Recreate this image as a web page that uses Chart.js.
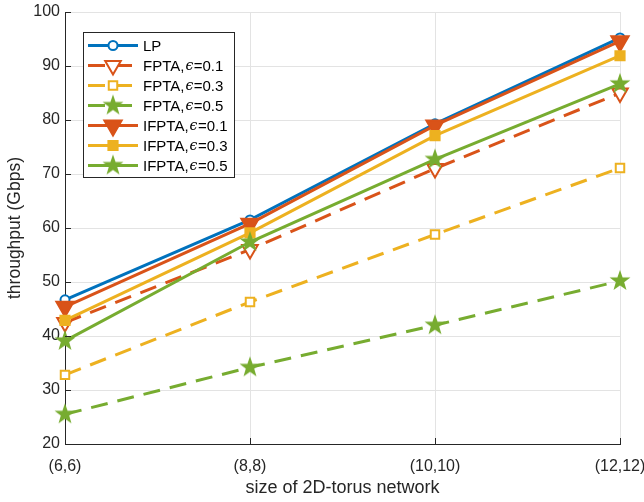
<!DOCTYPE html>
<html>
<head>
<meta charset="utf-8">
<script src="https://cdn.jsdelivr.net/npm/chart.js@4.4.1/dist/chart.umd.min.js"></script>
<style>
    html, body { margin: 0; padding: 0; background: #ffffff; }
    #wrap { width: 644px; height: 502px; }
</style>
</head>
<body>
<div id="wrap"><canvas id="chartThroughput" width="644" height="502"></canvas></div>
<script>
const sizes = ['(6,6)', '(8,8)', '(10,10)', '(12,12)'];
const yTicks = [20, 30, 40, 50, 60, 70, 80, 90, 100];

const lp = [46.7, 61.5, 79.3, 95.2];
const fpta01 = [42.5, 56.0, 71.0, 85.0];
const fpta03 = [32.8, 46.3, 58.8, 71.1];
const fpta05 = [25.5, 34.2, 42.0, 50.2];
const ifpta01 = [45.4, 60.8, 79.0, 94.6];
const ifpta03 = [42.9, 59.1, 77.1, 91.9];
const ifpta05 = [39.1, 57.4, 72.7, 86.7];

const palette = {
    blue: '#0072bd',
    red: '#d95319',
    yellow: '#edb120',
    green: '#77ac30',
    axis: '#262626',
    grid: '#e3e3e3',
};

const font = "Arial, 'Liberation Sans', Helvetica, sans-serif";

// filled five-point star used as a point style
function makeStar(color, outer) {
    const size = Math.ceil(outer * 2 + 2);
    const c = document.createElement('canvas');
    c.width = size;
    c.height = size;
    const g = c.getContext('2d');
    const cx = size / 2, cy = size / 2, inner = outer * 0.4;
    g.beginPath();
    for (let i = 0; i < 10; i++) {
        const r = i % 2 === 0 ? outer : inner;
        const a = -Math.PI / 2 + i * Math.PI / 5;
        const px = cx + r * Math.cos(a), py = cy + r * Math.sin(a);
        if (i === 0) g.moveTo(px, py); else g.lineTo(px, py);
    }
    g.closePath();
    g.fillStyle = color;
    g.fill();
    return c;
}

const star = makeStar(palette.green, 11);

function series(label, values, color, opts) {
    return Object.assign({
        label: label,
        data: values,
        borderColor: color,
        backgroundColor: color,
        pointBorderColor: color,
        pointBackgroundColor: color,
        borderWidth: 3,
        pointBorderWidth: 2,
        pointRadius: 6,
        tension: 0,
        fill: false,
        clip: false,
    }, opts);
}

const dash = [17, 10];

const datasets = [
    series('LP', lp, palette.blue, { pointStyle: 'circle', pointRadius: 4.5, pointBackgroundColor: '#ffffff' }),
    series('FPTA,ϵ=0.1', fpta01, palette.red, { borderDash: dash, pointStyle: 'triangle', pointRotation: 180, pointRadius: 9, pointBackgroundColor: '#ffffff' }),
    series('FPTA,ϵ=0.3', fpta03, palette.yellow, { borderDash: dash, pointStyle: 'rect', pointRadius: 6, pointBackgroundColor: '#ffffff' }),
    series('FPTA,ϵ=0.5', fpta05, palette.green, { borderDash: dash, pointStyle: star }),
    series('IFPTA,ϵ=0.1', ifpta01, palette.red, { pointStyle: 'triangle', pointRotation: 180, pointRadius: 10 }),
    series('IFPTA,ϵ=0.3', ifpta03, palette.yellow, { pointStyle: 'rect', pointRadius: 6.5 }),
    series('IFPTA,ϵ=0.5', ifpta05, palette.green, { pointStyle: star }),
];
// later series are painted over earlier ones
datasets.forEach(function (ds, i) { ds.order = datasets.length - i; });

// short tick marks pointing into the plot
const innerTicks = {
    id: 'innerTicks',
    afterDraw(chart) {
        const ctx = chart.ctx;
        const area = chart.chartArea;
        const xs = chart.scales.x, ys = chart.scales.y;
        ctx.save();
        ctx.strokeStyle = palette.axis;
        ctx.lineWidth = 1;
        ctx.beginPath();
        xs.ticks.forEach(function (t, i) {
            const px = Math.round(xs.getPixelForTick(i)) + 0.5;
            ctx.moveTo(px, area.bottom);
            ctx.lineTo(px, area.bottom - 6);
        });
        ys.ticks.forEach(function (t, i) {
            const py = Math.round(ys.getPixelForTick(i)) + 0.5;
            ctx.moveTo(area.left, py);
            ctx.lineTo(area.left + 6, py);
        });
        ctx.stroke();
        ctx.restore();
    },
};

// boxed legend drawn inside the plot, top left
const insideLegend = {
    id: 'insideLegend',
    afterDraw(chart) {
        const ctx = chart.ctx;
        const area = chart.chartArea;
        const left = area.left + 18, top = area.top + 20;
        const rowH = 20, boxW = 151, boxH = 145;
        ctx.save();
        ctx.fillStyle = '#ffffff';
        ctx.fillRect(left, top, boxW, boxH);
        ctx.strokeStyle = palette.axis;
        ctx.lineWidth = 1;
        ctx.strokeRect(left + 0.5, top + 0.5, boxW, boxH);
        chart.data.datasets.forEach(function (ds, i) {
            const y = top + 13.5 + i * rowH;
            ctx.save();
            ctx.strokeStyle = ds.borderColor;
            ctx.lineWidth = ds.borderWidth;
            ctx.setLineDash(ds.borderDash || []);
            ctx.beginPath();
            ctx.moveTo(left + 5, y);
            ctx.lineTo(left + 55, y);
            ctx.stroke();
            ctx.restore();
            ctx.save();
            ctx.strokeStyle = ds.pointBorderColor;
            ctx.fillStyle = ds.pointBackgroundColor;
            ctx.lineWidth = ds.pointBorderWidth;
            Chart.helpers.drawPoint(ctx, {
                pointStyle: ds.pointStyle,
                rotation: ds.pointRotation || 0,
                radius: ds.pointRadius,
                borderWidth: ds.pointBorderWidth,
            }, left + 30, y);
            ctx.restore();
            // label with an italic epsilon
            let tx = left + 60;
            ctx.fillStyle = '#000000';
            ctx.textBaseline = 'middle';
            const parts = ds.label.split('ϵ');
            ctx.font = '15px ' + font;
            ctx.fillText(parts[0], tx, y + 1);
            tx += ctx.measureText(parts[0]).width;
            if (parts.length > 1) {
                ctx.font = "italic 14px 'DejaVu Serif', 'Liberation Serif', serif";
                ctx.fillText('ϵ', tx + 1, y + 1);
                tx += ctx.measureText('ϵ').width + 1.5;
                ctx.font = '15px ' + font;
                ctx.fillText(parts[1], tx, y + 1);
            }
        });
        ctx.restore();
    },
};

new Chart(document.getElementById('chartThroughput'), {
    type: 'line',
    data: {
        labels: sizes,
        datasets: datasets,
    },
    options: {
        responsive: false,
        animation: false,
        layout: { padding: { top: 10, right: 24, left: 0, bottom: 0 } },
        plugins: {
            legend: { display: false },
            tooltip: { enabled: false },
        },
        scales: {
            x: {
                offset: false,
                afterFit: function (scale) {
                    scale.height = 58;
                    scale.paddingLeft = 0;
                    scale.paddingRight = 0;
                },
                grid: { color: palette.grid, drawTicks: false },
                border: { color: palette.axis, width: 1 },
                ticks: { color: palette.axis, font: { family: font, size: 16 }, padding: 13, maxRotation: 0 },
                title: {
                    display: true,
                    text: 'size of 2D-torus network',
                    color: palette.axis,
                    font: { family: font, size: 18 },
                    padding: { top: 0, bottom: 3 },
                },
            },
            y: {
                min: yTicks[0],
                max: yTicks[yTicks.length - 1],
                afterFit: function (scale) {
                    scale.width = 65;
                    scale.paddingTop = 0;
                    scale.paddingBottom = 0;
                },
                afterBuildTicks: function (scale) {
                    scale.ticks = yTicks.map(function (v) { return { value: v }; });
                },
                grid: { color: palette.grid, drawTicks: false },
                border: { color: palette.axis, width: 1 },
                ticks: { color: palette.axis, font: { family: font, size: 16 }, padding: 5 },
                title: {
                    display: true,
                    text: 'throughput (Gbps)',
                    color: palette.axis,
                    font: { family: font, size: 17.5 },
                    padding: { top: 5, bottom: 0 },
                },
            },
        },
    },
    plugins: [innerTicks, insideLegend],
});
</script>
</body>
</html>
